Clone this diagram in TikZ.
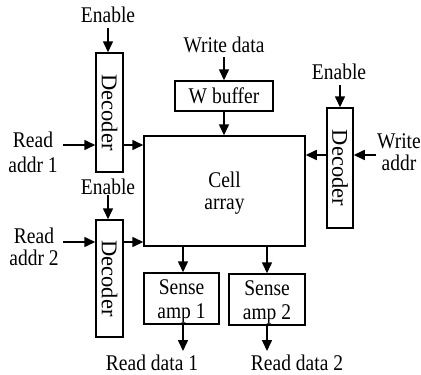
\documentclass[tikz,border=0pt]{standalone}
\usepackage{fontspec}
\setmainfont{Liberation Serif}
\usetikzlibrary{arrows.meta}
\begin{document}
\begin{tikzpicture}[x=1pt,y=-1pt,
  blk/.style={draw,line width=1.5pt,inner sep=0pt},
  lbl/.style={font=\fontsize{19.5}{19}\selectfont,inner sep=2pt,align=center,yscale=1.15},
  arr/.style={line width=1.6pt,-{Triangle[length=11pt,width=10pt]}},
  dectext/.style={font=\fontsize{22.5}{22}\selectfont,rotate=-90}]
\useasboundingbox (0,0) rectangle (421,375);

% storage blocks
\node[blk,minimum width=161pt,minimum height=110pt] (cell) at (224.5,191) {};
\node[lbl,align=center] at ([yshift=-2pt]cell.center) {Cell\\array};
\node[blk,minimum width=98pt,minimum height=30pt] (wbuf) at (224,96) {};
\node[lbl] at (wbuf.center) {W buffer};

% decoders
\node[blk,minimum width=27pt,minimum height=119pt] (dec1) at (109.5,112.5) {};
\node[dectext] at (dec1.center) {Decoder};
\node[blk,minimum width=27pt,minimum height=117pt] (dec2) at (109.5,278.5) {};
\node[dectext] at (dec2.center) {Decoder};
\node[blk,minimum width=26pt,minimum height=120pt] (dec3) at (340,168) {};
\node[dectext] at (dec3.center) {Decoder};

% sense amplifiers
\node[blk,minimum width=75pt,minimum height=51pt] (sa1) at (181.5,298.5) {};
\node[lbl,align=center] at ([yshift=-3pt]sa1.center) {Sense\\[2pt]amp 1};
\node[blk,minimum width=76pt,minimum height=51pt] (sa2) at (267,299.5) {};
\node[lbl,align=center] at ([yshift=-3pt]sa2.center) {Sense\\[2pt]amp 2};

% input and output labels
\node[lbl] (en1) at (108,15) {Enable};
\node[lbl] (en2) at (108,187) {Enable};
\node[lbl] (en3) at (339,72) {Enable};
\node[lbl] (wd) at (224,45) {Write data};
\node[lbl,align=center] (ra1) at (33,152) {Read\\[3pt]addr 1};
\node[lbl,align=center] (ra2) at (34,247) {Read\\addr 2};
\node[lbl,align=center] (wa) at (399,152) {Write\\addr};
\node[lbl] (rd1) at (152,363) {Read data 1};
\node[lbl] (rd2) at (297,363) {Read data 2};

\coordinate (o1) at (183,351);
\coordinate (o2) at (267,351);
\coordinate (a1) at (0,145);
\coordinate (a2) at (0,242);
\coordinate (a3) at (0,155);

% connectors
\draw[arr] (108,28) -- (en1.south |- dec1.north);
\draw[arr] (108,195) -- (en2.south |- dec2.north);
\draw[arr] (340,85) -- (dec3.north);
\draw[arr] (224,57) -- (wbuf.north);
\draw[arr] (wbuf.south) -- (wbuf.south |- cell.north);

\draw[arr] (63,145) -- (dec1.west |- a1);
\draw[arr] (dec1.east |- a1) -- (cell.west |- a1);
\draw[arr] (63,242) -- (dec2.west |- a2);
\draw[arr] (dec2.east |- a2) -- (cell.west |- a2);
\draw[arr] (376,155) -- (dec3.east |- a3);
\draw[arr] (dec3.west |- a3) -- (cell.east |- a3);

\draw[arr] (cell.south -| o1) -- (sa1.north -| o1);
\draw[arr] (cell.south -| o2) -- (sa2.north -| o2);
\draw[arr] (sa1.south -| o1) -- (o1);
\draw[arr] (sa2.south -| o2) -- (o2);
\end{tikzpicture}
\end{document}
